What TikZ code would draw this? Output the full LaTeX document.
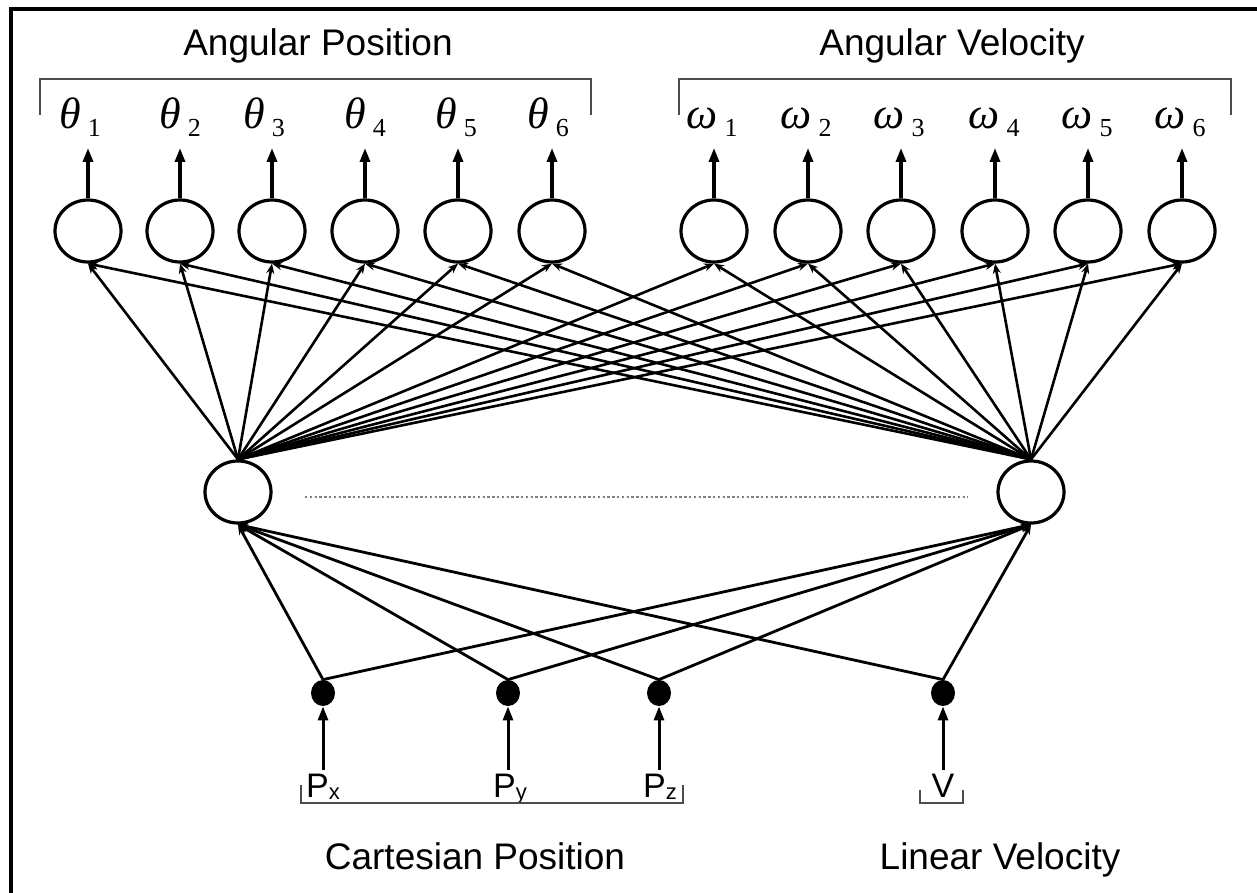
\documentclass[tikz,border=0pt]{standalone}
\usepackage{fontspec}
\setmainfont{Liberation Sans}
\newfontfamily\symfont{Liberation Serif}
\usetikzlibrary{arrows.meta,shapes.geometric}
\newcommand{\sublow}[1]{\raisebox{-4pt}{\fontsize{13}{14}\selectfont\upshape #1}}
\newcommand{\psub}[1]{\raisebox{-1pt}{\fontsize{11}{12}\selectfont #1}}
\begin{document}
\begin{tikzpicture}[x=0.5pt,y=-0.5pt,
  neuron/.style={draw,line width=1.6pt,ellipse,minimum width=33pt,minimum height=31pt,inner sep=0pt},
  inputnode/.style={fill=black,ellipse,minimum width=12pt,minimum height=13pt,inner sep=0pt},
  link/.style={line width=1.3pt,-{Stealth[length=5pt,width=4pt]}},
  outarrow/.style={line width=1.6pt,-{Triangle[length=7pt,width=5pt]}},
  inarrow/.style={line width=1.5pt,-{Triangle[length=7pt,width=5pt]}},
  bracketline/.style={draw=black!70,line width=1.1pt},
  title/.style={font=\fontsize{18.5}{20}\selectfont,anchor=base},
  symlabel/.style={font=\symfont\fontsize{22}{24}\selectfont\itshape,anchor=base},
  plabel/.style={font=\fontsize{17}{18}\selectfont,anchor=base}
]
\useasboundingbox (0,0) rectangle (1257,893);
% frame
\draw[line width=2pt] (11,893) -- (11,9) -- (1257,9);

% titles
\node[title] (tAP) at (318,56) {Angular Position};
\node[title] (tAV) at (952,56) {Angular Velocity};
\node[title] (tCP) at (475,869) {Cartesian Position};
\node[title] (tLV) at (1000,869) {Linear Velocity};

% top brackets
\draw[bracketline] (40,115) -- (40,79) -- (591,79) -- (591,115);
\draw[bracketline] (679,115) -- (679,79) -- (1231,79) -- (1231,115);

% output neurons
\foreach \n/\x in {1/88,2/180,3/272,4/365,5/458,6/552,7/714,8/808,9/901,10/995,11/1088,12/1182}{
  \node[neuron] (o\n) at (\x,231) {};
  \coordinate (t\n) at (\x,148);
  \draw[outarrow] (o\n.north) -- (t\n);
}

% output labels
\foreach \n/\x/\s in {1/80/1,2/180/2,3/264/3,4/365/4,5/456/5,6/548/6}{
  \node[symlabel,inner sep=0pt] (lt\n) at (\x,129) {θ\,\sublow{\s}};
}
\foreach \n/\x/\s in {7/712/1,8/806/2,9/899/3,10/994/4,11/1087/5,12/1180/6}{
  \node[symlabel,inner sep=0pt] (lw\n) at (\x,129) {ω\,\sublow{\s}};
}

% hidden neurons
\node[neuron] (h1) at (238,492) {};
\node[neuron] (h2) at (1031,492) {};
\draw[gray,line width=1pt,dash pattern=on 1.2pt off 1.2pt] (305,497) -- (968,497);

% hidden to output
\foreach \n in {1,...,12}{
  \draw[link] (h1.north) -- (o\n.south);
  \draw[link] (h2.north) -- (o\n.south);
}

% inputs
\foreach \n/\x in {1/323,2/508,3/659,4/943}{
  \node[inputnode] (i\n) at (\x,693) {};
  \coordinate (b\n) at (\x,770);
  \draw[inarrow] (b\n) -- (i\n.south);
  \draw[link,line width=1.4pt] (i\n.north) -- (h1.south);
  \draw[link,line width=1.4pt] (i\n.north) -- (h2.south);
}

% input labels
\node[plabel,inner sep=0pt] (px) at (323,797) {P\psub{x}};
\node[plabel,inner sep=0pt] (py) at (510,797) {P\psub{y}};
\node[plabel,inner sep=0pt] (pz) at (660,797) {P\psub{z}};
\node[plabel,inner sep=0pt] (pv) at (943,797) {V};

% bottom brackets
\draw[bracketline] (301,785) -- (301,803) -- (683,803) -- (683,785);
\draw[bracketline] (920,790) -- (920,803) -- (963,803) -- (963,790);
\end{tikzpicture}
\end{document}
